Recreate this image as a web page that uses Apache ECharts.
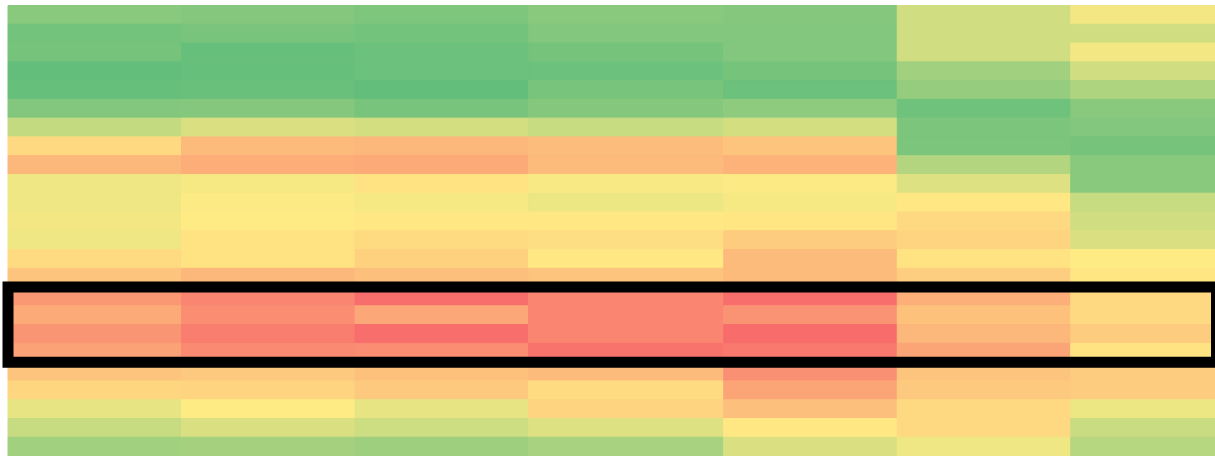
<!DOCTYPE html>
<html>
<head>
<meta charset="utf-8">
<script src="https://cdn.jsdelivr.net/npm/echarts@6/dist/echarts.min.js"></script>
<style>html,body{margin:0;padding:0;background:#fff}#c{width:1215px;height:456px}</style>
</head>
<body>
<div id="c"></div>
<script>
// column boundaries on the x value axis (start of each column, last = end)
const columnBounds = [0, 8, 16, 24, 33, 41, 49, 57];
const rowCount = 24;
// score per cell (0 = red, 50 = yellow, 100 = green), one array per column, top row first
const col1 = [88, 95, 94, 100, 99, 90, 69, 43, 30, 55, 55, 54, 55, 44, 35, 18, 25, 17, 22, 35, 42, 58, 68, 80];
const col2 = [89, 93, 99, 99, 98, 89, 62, 31, 26, 53, 51, 50, 47, 47, 30, 11, 14, 8, 13, 37, 41, 50, 62, 79];
const col3 = [91, 95, 97, 97, 100, 93, 64, 30, 25, 47, 53, 49, 44, 40, 33, 2, 24, 2, 14, 34, 37, 58, 66, 81];
const col4 = [88, 90, 94, 97, 93, 89, 68, 32, 31, 52, 56, 49, 45, 49, 35, 11, 11, 11, 4, 31, 44, 41, 61, 78];
const col5 = [89, 90, 90, 94, 97, 86, 64, 35, 28, 51, 53, 48, 38, 31, 31, 2, 16, 1, 6, 15, 23, 33, 49, 62];
const col6 = [65, 65, 65, 80, 84, 96, 92, 92, 74, 61, 49, 43, 41, 47, 39, 27, 34, 30, 23, 35, 37, 43, 43, 55];
const col7 = [54, 65, 54, 65, 76, 88, 90, 94, 88, 88, 68, 65, 62, 50, 48, 43, 43, 38, 47, 38, 38, 56, 67, 73];
const columns = [col1, col2, col3, col4, col5, col6, col7];
// highlighted block of rows (first row index, last row index)
const highlightRows = [15, 18];

const cells = [];
columns.forEach((col, c) => col.forEach((v, r) => cells.push([c, r, v])));

const chart = echarts.init(document.getElementById('c'), null, {renderer: 'canvas'});
const xMax = 55.65;
chart.setOption({
  animation: false,
  grid: {left: 8, right: 0, top: 5.5, bottom: 0},
  xAxis: {type: 'value', min: 0, max: xMax, show: false},
  yAxis: {type: 'value', min: 0, max: rowCount, inverse: true, show: false},
  visualMap: {
    show: false, type: 'continuous', min: 0, max: 100, dimension: 2, seriesIndex: 0,
    inRange: {color: ['#F8696B', '#FFEB84', '#63BE7B']}
  },
  series: [
    {
      type: 'custom',
      data: cells,
      renderItem: function (params, api) {
        const c = api.value(0), r = api.value(1);
        const p0 = api.coord([columnBounds[c], r]);
        const p1 = api.coord([columnBounds[c + 1], r + 1]);
        const color = api.visual('color');
        return {
          type: 'rect',
          shape: {x: p0[0], y: p0[1], width: p1[0] - p0[0], height: p1[1] - p0[1]},
          style: {fill: color, stroke: color, lineWidth: 1}
        };
      }
    },
    {
      type: 'custom',
      clip: false,
      data: [[0, highlightRows[0], 55.72, highlightRows[1] + 1]],
      renderItem: function (params, api) {
        const p0 = api.coord([api.value(0), api.value(1)]);
        const p1 = api.coord([api.value(2), api.value(3)]);
        return {
          type: 'rect',
          shape: {x: p0[0], y: p0[1], width: p1[0] - p0[0], height: p1[1] - p0[1]},
          style: {fill: 'none', stroke: '#000', lineWidth: 11}
        };
      }
    }
  ]
});
</script>
</body>
</html>
